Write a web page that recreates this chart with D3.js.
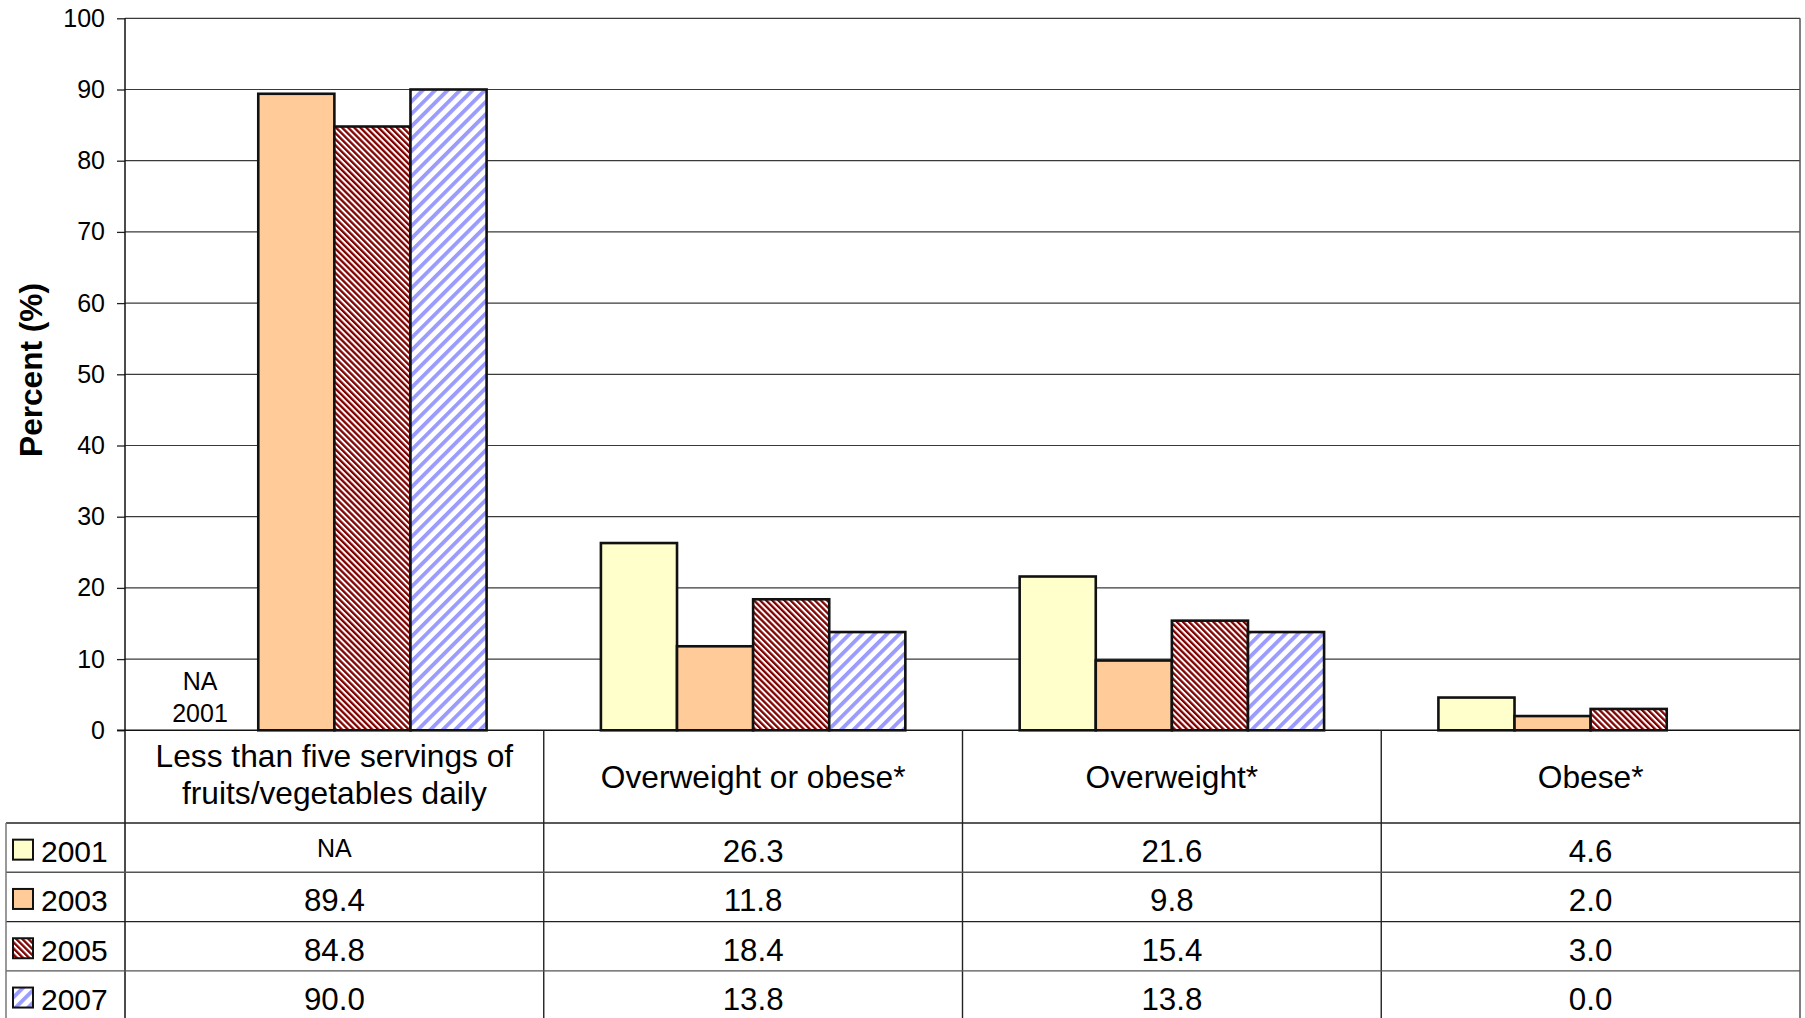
<!DOCTYPE html>
<html>
<head>
<meta charset="utf-8">
<script src="https://cdn.jsdelivr.net/npm/d3@7"></script>
<style>
  html, body { margin: 0; padding: 0; background: #fff; }
  svg { display: block; font-family: "Liberation Sans", Arial, Helvetica, sans-serif; }
</style>
</head>
<body>
<svg id="chart" width="1805" height="1018"></svg>
<script>
// Categories (multi-line labels), survey years and values per year
const categories = [
  ["Less than five servings of", "fruits/vegetables daily"],
  ["Overweight or obese*"],
  ["Overweight*"],
  ["Obese*"]
];
const years = ["2001", "2003", "2005", "2007"];
const values2001 = [null, 26.3, 21.6, 4.6];
const values2003 = [89.4, 11.8, 9.8, 2.0];
const values2005 = [84.8, 18.4, 15.4, 3.0];
const values2007 = [90.0, 13.8, 13.8, 0.0];
const yTicks = [0, 10, 20, 30, 40, 50, 60, 70, 80, 90, 100];

const seriesValues = [values2001, values2003, values2005, values2007];

(function draw() {
  const svg = d3.select("#chart");
  const H = 1018;
  const plotLeft = 125, plotRight = 1800, plotTop = 18.3, plotBottom = 730.3;
  const legendLeft = 6;
  const headerBottom = 823;
  const rowH = 49.3;

  // Fill patterns
  const defs = svg.append("defs");
  const red = defs.append("pattern").attr("id", "hatchRed")
    .attr("patternUnits", "userSpaceOnUse").attr("width", 4.3).attr("height", 10)
    .attr("patternTransform", "rotate(-45)");
  red.append("rect").attr("width", 4.3).attr("height", 10).attr("fill", "#fff");
  red.append("rect").attr("width", 2.3).attr("height", 10).attr("fill", "#800000");

  const blue = defs.append("pattern").attr("id", "hatchBlue")
    .attr("patternUnits", "userSpaceOnUse").attr("width", 8.8).attr("height", 10)
    .attr("patternTransform", "rotate(45)");
  blue.append("rect").attr("width", 8.8).attr("height", 10).attr("fill", "#fff");
  blue.append("rect").attr("width", 3.8).attr("height", 10).attr("fill", "#9a9aff");

  const fills = ["#ffffcc", "#ffcc99", "url(#hatchRed)", "url(#hatchBlue)"];

  // Scales
  const y = d3.scaleLinear().domain([0, 100]).range([plotBottom, plotTop]);
  const x0 = d3.scaleBand().domain(d3.range(categories.length)).range([plotLeft, plotRight]);
  const groupW = x0.bandwidth() * 0.727;
  const x1 = d3.scaleBand().domain(years).range([0, groupW]);
  const groupOffset = (x0.bandwidth() - groupW) / 2;

  // Gridlines
  svg.append("g").selectAll("line").data(yTicks.filter(t => t > 0)).join("line")
    .attr("x1", plotLeft).attr("x2", plotRight)
    .attr("y1", d => y(d)).attr("y2", d => y(d))
    .attr("stroke", "#3a3a3a").attr("stroke-width", 1.2);

  // Y axis
  const yAxis = d3.axisLeft(y).tickValues(yTicks).tickSize(8).tickPadding(12).tickFormat(d3.format("d"));
  const ya = svg.append("g").attr("transform", `translate(${plotLeft},0)`).call(yAxis);
  ya.select(".domain").remove();
  ya.selectAll(".tick line").attr("stroke", "#222").attr("stroke-width", 1.3);
  ya.selectAll(".tick text").attr("font-size", 25).attr("fill", "#000")
    .attr("font-family", "'Liberation Sans', Arial, sans-serif");

  // Axis title
  svg.append("text")
    .attr("transform", "translate(42,370) rotate(-90)")
    .attr("text-anchor", "middle")
    .attr("font-size", 31.6).attr("font-weight", "bold")
    .text("Percent (%)");

  // Bars
  const barData = [];
  categories.forEach((c, ci) => {
    years.forEach((yr, si) => {
      const v = seriesValues[si][ci];
      if (v !== null && v > 0) barData.push({ ci, si, yr, v });
    });
  });
  svg.append("g").selectAll("rect").data(barData).join("rect")
    .attr("x", d => x0(d.ci) + groupOffset + x1(d.yr))
    .attr("y", d => y(d.v))
    .attr("width", x1.bandwidth())
    .attr("height", d => y(0) - y(d.v))
    .attr("fill", d => fills[d.si])
    .attr("stroke", "#111").attr("stroke-width", 2.6);

  // Missing-value note for 2001
  const naG = svg.append("g").attr("font-size", 25).attr("text-anchor", "middle");
  naG.append("text").attr("x", 200).attr("y", 690).text("NA");
  naG.append("text").attr("x", 200).attr("y", 722).text("2001");

  // Zero baseline
  svg.append("line").attr("x1", plotLeft - 8).attr("x2", plotRight)
    .attr("y1", plotBottom).attr("y2", plotBottom)
    .attr("stroke", "#111").attr("stroke-width", 1.5);

  // Y axis line and right border
  svg.append("line").attr("x1", plotLeft).attr("x2", plotLeft).attr("y1", plotTop).attr("y2", H)
    .attr("stroke", "#111").attr("stroke-width", 1.5);
  svg.append("line").attr("x1", plotRight).attr("x2", plotRight).attr("y1", plotTop).attr("y2", H)
    .attr("stroke", "#555").attr("stroke-width", 1.5);

  // Category column dividers in the table
  svg.append("g").selectAll("line").data(d3.range(1, categories.length)).join("line")
    .attr("x1", d => x0(d)).attr("x2", d => x0(d))
    .attr("y1", plotBottom).attr("y2", H)
    .attr("stroke", "#222").attr("stroke-width", 1.4);

  // Category labels
  const catG = svg.append("g").attr("font-size", 31.7).attr("text-anchor", "middle");
  categories.forEach((lines, ci) => {
    const cx = x0(ci) + x0.bandwidth() / 2;
    const mid = (plotBottom + headerBottom) / 2;
    const lh = 37.5;
    const shift = lines.length > 1 ? 9 : 11;
    lines.forEach((ln, li) => {
      catG.append("text")
        .attr("x", cx)
        .attr("y", mid + (li - (lines.length - 1) / 2) * lh + shift)
        .text(ln);
    });
  });

  // Table horizontal rules
  const rowTops = years.map((_, i) => headerBottom + i * rowH);
  svg.append("g").selectAll("line").data(rowTops).join("line")
    .attr("x1", legendLeft).attr("x2", plotRight)
    .attr("y1", d => d).attr("y2", d => d)
    .attr("stroke", (d, i) => i % 2 === 0 ? "#222" : "#555").attr("stroke-width", 1.4);
  // Legend column left border
  svg.append("line").attr("x1", legendLeft).attr("x2", legendLeft)
    .attr("y1", headerBottom).attr("y2", H)
    .attr("stroke", "#777").attr("stroke-width", 1.5);

  // Legend keys and year labels
  years.forEach((yr, si) => {
    const cy = rowTops[si] + rowH / 2;
    svg.append("rect")
      .attr("x", 13).attr("y", cy - 8).attr("width", 20).attr("height", 20)
      .attr("fill", fills[si]).attr("stroke", "#111").attr("stroke-width", 2);
    svg.append("text").attr("x", 41).attr("y", cy + 14.5)
      .attr("font-size", 30).text(yr);
  });

  // Table values
  years.forEach((yr, si) => {
    const cy = rowTops[si] + rowH / 2;
    seriesValues[si].forEach((v, ci) => {
      const cx = x0(ci) + x0.bandwidth() / 2;
      svg.append("text")
        .attr("x", cx)
        .attr("y", v === null ? cy + 9.5 : cy + 14.5)
        .attr("text-anchor", "middle")
        .attr("font-size", v === null ? 25 : 31.3)
        .text(v === null ? "NA" : d3.format(".1f")(v));
    });
  });
})();
</script>
</body>
</html>
